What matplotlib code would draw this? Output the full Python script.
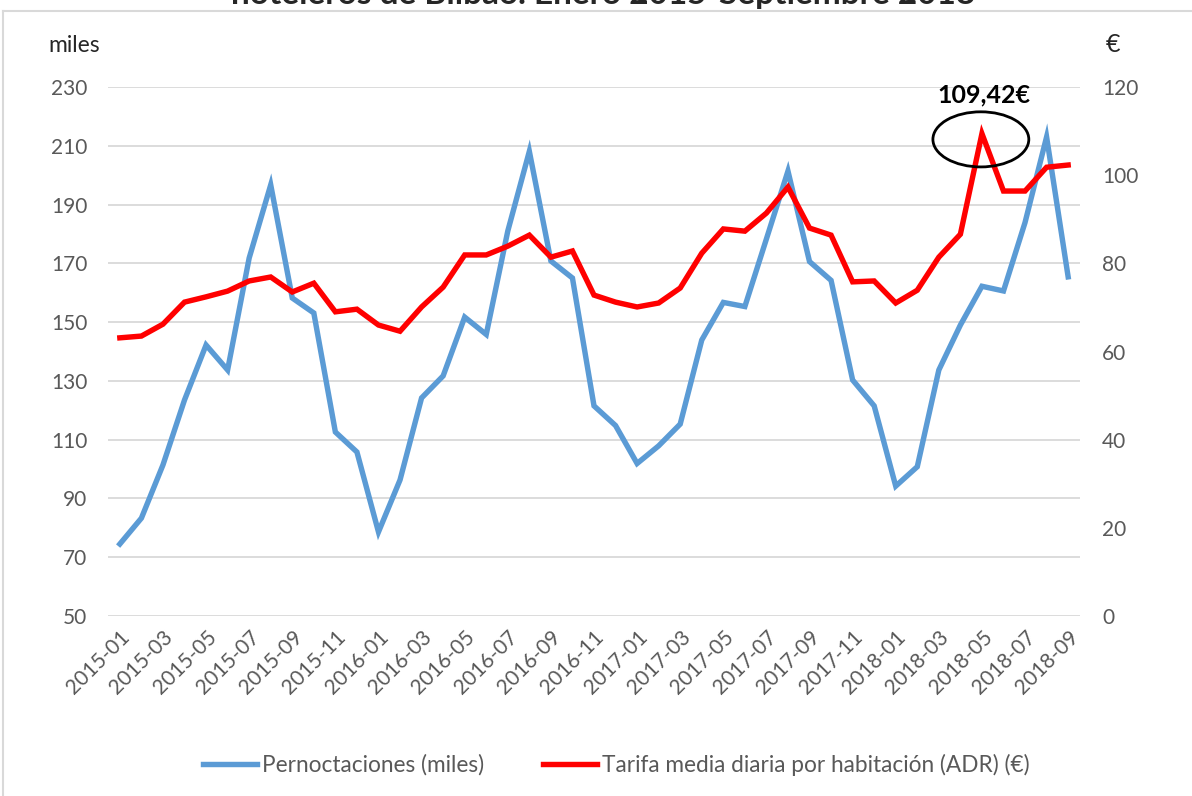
import matplotlib
matplotlib.use("Agg")
import matplotlib.pyplot as plt
from matplotlib.patches import Ellipse
from matplotlib.lines import Line2D

plt.rcParams['font.family'] = ['Lato', 'DejaVu Sans']

months = [f"{y}-{m:02d}" for y in range(2015, 2019) for m in range(1, 13)][:45]

pernoctaciones = [74.5, 83.3, 101.4, 123.5, 142.2, 133.7, 171.8, 196.7, 158.2, 153.1,
                  112.6, 105.8, 78.6, 96.3, 124.2, 131.7, 151.7, 145.8, 181.0, 208.1,
                  170.8, 165.0, 121.5, 114.8, 101.9, 107.9, 115.3, 143.9, 156.7, 155.3,
                  178.3, 201.4, 170.6, 164.2, 130.3, 121.5, 94.2, 100.8, 133.7, 149.0,
                  162.2, 160.6, 183.9, 213.0, 165.4]

adr = [63.1, 63.5, 66.2, 71.2, 72.4, 73.7, 76.0, 76.9, 73.5, 75.5,
       69.0, 69.6, 66.0, 64.6, 70.1, 74.6, 81.9, 81.9, 83.9, 86.4,
       81.4, 82.8, 72.8, 71.2, 70.1, 71.0, 74.4, 82.3, 87.8, 87.3,
       91.4, 97.3, 88.0, 86.4, 75.8, 76.0, 71.0, 73.9, 81.4, 86.6,
       109.42, 96.4, 96.4, 101.8, 102.3]

left_ticks = list(range(50, 231, 20))
right_ticks = list(range(0, 121, 20))
tick_labels = months[::2]

series_names = ["Pernoctaciones (miles)", "Tarifa media diaria por habitación (ADR) (€)"]
title_text = "hoteleros de Bilbao. Enero 2015-Septiembre 2018"
peak_label = "109,42€"

W, H = 1192, 796
fig = plt.figure(figsize=(W / 100, H / 100), dpi=100)
ax = fig.add_axes([108 / W, 1 - 616 / H, (1080 - 108) / W, (616 - 87) / H])
ax2 = ax.twinx()

x = list(range(len(months)))
blue = "#5B9BD5"
red = "#FF0000"
gray = "#595959"

l1, = ax.plot(x, pernoctaciones, color=blue, lw=3.9, solid_joinstyle='miter', zorder=3)
l2, = ax2.plot(x, adr, color=red, lw=3.9, solid_joinstyle='miter', zorder=3)

ax.set_xlim(-0.55, len(months) - 1 + 0.55)
ax.set_ylim(50, 230)
ax2.set_ylim(0, 120)
ax.set_yticks(left_ticks)
ax2.set_yticks(right_ticks)
ax.set_xticks(x[::2])
ax.set_xticklabels(tick_labels, rotation=45, ha='right', va='top', rotation_mode='anchor')

ax.grid(axis='y', color='#D9D9D9', lw=1.3)
ax.set_axisbelow(True)
for a in (ax, ax2):
    for s in a.spines.values():
        s.set_visible(False)
    a.tick_params(length=0, labelsize=15, labelcolor=gray)
ax.tick_params(axis='y', pad=15)
ax2.tick_params(axis='y', pad=16)
ax.tick_params(axis='x', pad=8)

# annotation
pk = adr.index(max(adr))
ell = Ellipse((pk - 0.05, max(adr) - 1.3), width=4.45, height=12.5, fill=False,
              edgecolor='black', lw=2, zorder=4)
ax2.add_patch(ell)
ax2.text(pk + 0.1, max(adr) + 8.8, peak_label, ha='center', va='center',
         fontsize=18, fontweight='bold', color='black')

fig.text(48 / W, 1 - 45 / H, "miles", fontsize=16.5, color='#262626', ha='left', va='center')
fig.text(1106 / W, 1 - 45 / H, "€", fontsize=18, color='#262626', ha='left', va='center')

fig.text(603 / W, 1 - 4 / H, title_text, fontsize=24, fontweight='bold', color='#262626',
         ha='center', va='baseline')

# chart border
fig.add_artist(Line2D([3 / W, 3 / W], [0, 1 - 11 / H], transform=fig.transFigure, color='#D9D9D9', lw=1.5))
fig.add_artist(Line2D([3 / W, 1], [1 - 11 / H, 1 - 11 / H], transform=fig.transFigure, color='#D9D9D9', lw=1.5))

leg = fig.legend([l1, l2], series_names, loc='center', bbox_to_anchor=(616 / W, 1 - 765 / H),
                 ncol=2, frameon=False, fontsize=16.3, handlelength=2.4, handletextpad=0.2,
                 columnspacing=2.6, labelcolor=gray)

fig.savefig("out.png", dpi=100)
